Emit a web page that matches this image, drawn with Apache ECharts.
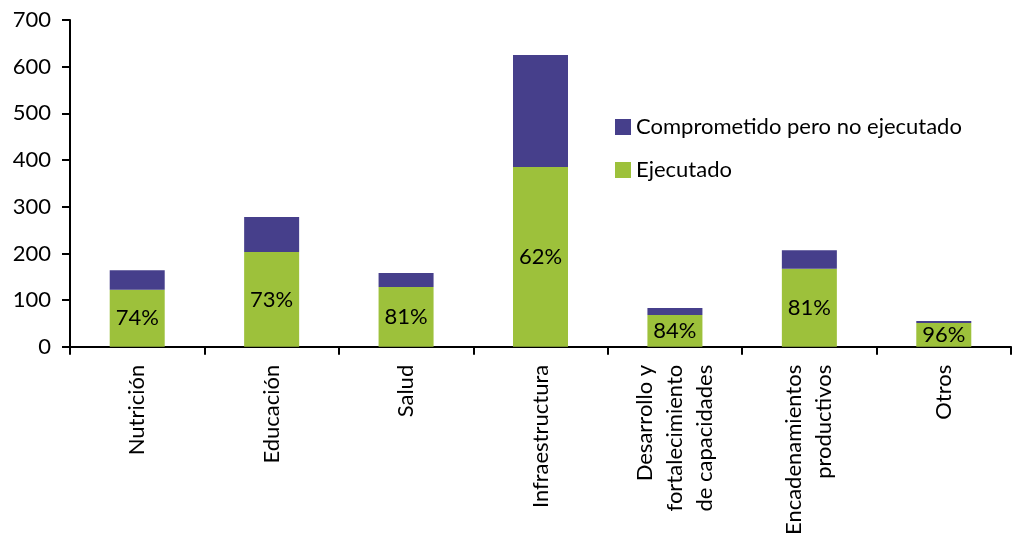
<!DOCTYPE html>
<html>
<head>
<meta charset="utf-8">
<script src="https://cdn.jsdelivr.net/npm/echarts@6/dist/echarts.min.js"></script>
<style>
html,body{margin:0;padding:0;background:#fff;}
#chart{width:1021px;height:538px;}
</style>
</head>
<body>
<div id="chart"></div>
<script>
const categories = ['Nutrición','Educación','Salud','Infraestructura','Desarrollo y\nfortalecimiento\nde capacidades','Encadenamientos\nproductivos','Otros'];
const ejecutado = [122, 203, 128, 385, 68, 167, 51];
const comprometidoNoEjecutado = [42, 75, 30, 240, 15, 40, 4];
const porcentajes = ['74%','73%','81%','62%','84%','81%','96%'];
const seriesNames = ['Ejecutado','Comprometido pero no ejecutado'];

const FONT = 'Lato';
const chart = echarts.init(document.getElementById('chart'), null, {renderer:'canvas'});
chart.setOption({
  animation: false,
  backgroundColor: '#fff',
  textStyle: {fontFamily: FONT, color: '#000'},
  grid: {left: 70, right: 10, top: 20, bottom: 191, containLabel: false},
  legend: {
    orient: 'vertical',
    left: 610, top: 111,
    itemWidth: 16, itemHeight: 16, itemGap: 21,
    data: [seriesNames[1], seriesNames[0]],
    textStyle: {fontFamily: FONT, fontSize: 22, lineHeight: 22, color: '#000'},
    icon: 'rect'
  },
  xAxis: {
    type: 'category',
    data: categories,
    axisLine: {lineStyle: {color: '#000', width: 2}},
    axisTick: {show: true, length: 8, lineStyle: {color: '#000', width: 2}},
    axisLabel: {rotate: 90, margin: 18, interval: 0, fontFamily: FONT, fontSize: 22, lineHeight: 30, color: '#000'}
  },
  yAxis: {
    type: 'value', min: 0, max: 700, interval: 100,
    splitLine: {show: false},
    axisLine: {show: true, lineStyle: {color: '#000', width: 2}},
    axisTick: {show: true, length: 8, lineStyle: {color: '#000', width: 2}},
    axisLabel: {margin: 19, fontFamily: FONT, fontSize: 22, color: '#000'}
  },
  series: [
    {
      name: seriesNames[0], type: 'bar', stack: 'total', barWidth: 55,
      itemStyle: {color: '#9dc13b'},
      data: ejecutado,
      label: {show: true, position: 'inside', fontFamily: FONT, fontSize: 22, color: '#000',
        formatter: p => porcentajes[p.dataIndex]}
    },
    {
      name: seriesNames[1], type: 'bar', stack: 'total', barWidth: 55,
      itemStyle: {color: '#463f8b'},
      data: comprometidoNoEjecutado
    }
  ]
});
</script>
</body>
</html>
